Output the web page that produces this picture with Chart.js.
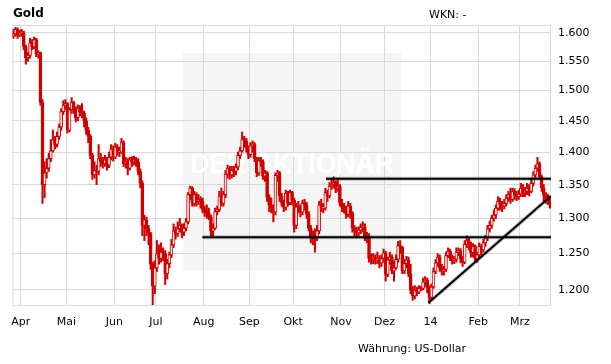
<!DOCTYPE html>
<html>
<head>
<meta charset="utf-8">
<title>Gold</title>
<script src="https://cdn.jsdelivr.net/npm/chart.js@4.4.1/dist/chart.umd.min.js"></script>
<style>
  html, body { margin: 0; padding: 0; background: #fff; }
</style>
</head>
<body>
<canvas id="chartGold" width="611" height="364"></canvas>
<script>
// Tagesschlusskurse (Handelstage 26.03.2013 - 21.03.2014), US-Dollar
const closes = [
  1598, 1606, 1596, 1600,
  1600, 1575, 1556, 1560, 1582,  1575, 1588, 1562, 1565, 1480,
  1350, 1368, 1375, 1390, 1402,  1420, 1412, 1425, 1440, 1465,
  1475, 1478, 1435, 1468, 1480,  1470, 1455, 1470, 1465, 1462,
  1450, 1435, 1425, 1395, 1365,  1372, 1370, 1390, 1385, 1382,
  1388, 1380, 1392, 1405, 1392,  1408, 1400, 1400, 1415, 1382,
  1385, 1375, 1388, 1385, 1388,  1385, 1370, 1352, 1290, 1298,
  1285, 1278, 1235, 1205, 1230,  1250, 1243, 1252, 1250, 1222,
  1236, 1248, 1262, 1282, 1278,  1285, 1290, 1280, 1286, 1295,
  1335, 1345, 1322, 1335, 1325,  1328, 1325, 1313, 1310, 1308,
  1302, 1282, 1286, 1310, 1313,  1333, 1322, 1335, 1366, 1375,
  1365, 1372, 1370, 1377, 1395,  1402, 1420, 1418, 1407, 1396,
  1410, 1412, 1390, 1368, 1387,  1385, 1363, 1368, 1331, 1320,
  1316, 1309, 1364, 1368, 1333,  1323, 1316, 1337, 1323, 1338,
  1327, 1290, 1317, 1316, 1309,  1322, 1320, 1306, 1286, 1272,
  1275, 1272, 1282, 1320, 1315,  1315, 1338, 1333, 1348, 1351,
  1353, 1344, 1347, 1323, 1316,  1315, 1306, 1318, 1308, 1286,
  1282, 1279, 1283, 1287, 1288,  1273, 1274, 1243, 1242, 1243,
  1241, 1242, 1237, 1243, 1251,  1221, 1241, 1245, 1226, 1230,
  1242, 1261, 1259, 1226, 1236,  1241, 1222, 1200, 1192, 1200,
  1197, 1202, 1202, 1211, 1213,  1203, 1190, 1204, 1225, 1237,
  1245, 1230, 1226, 1228, 1247,  1253, 1245, 1240, 1242, 1252,
  1254, 1242, 1238, 1263, 1268,  1263, 1251, 1260, 1243, 1248,
  1260, 1255, 1265, 1272, 1285,  1290, 1300, 1305, 1315, 1325,
  1320, 1318, 1322, 1330, 1335,  1328, 1340, 1335, 1332, 1336,
  1345, 1338, 1340, 1345, 1340,  1352, 1365, 1375, 1382, 1362,
  1345, 1335, 1330, 1328, 1320
];

const highs = [
  1606, 1610, 1609, 1605,
  1606, 1603, 1578, 1565, 1590,  1588, 1593, 1590, 1568, 1566,
  1485, 1385, 1390, 1398, 1420,  1435, 1425, 1432, 1445, 1470,
  1483, 1485, 1480, 1472, 1488,  1482, 1473, 1476, 1475, 1478,
  1466, 1455, 1440, 1428, 1398,  1385, 1380, 1412, 1398, 1392,
  1395, 1392, 1400, 1412, 1410,  1414, 1412, 1408, 1422, 1418,
  1392, 1390, 1392, 1393, 1394,  1392, 1390, 1374, 1356, 1305,
  1302, 1290, 1280, 1238, 1240,  1268, 1262, 1265, 1258, 1254,
  1242, 1252, 1270, 1292, 1288,  1295, 1300, 1292, 1292, 1300,
  1338, 1348, 1347, 1340, 1338,  1335, 1332, 1330, 1318, 1320,
  1315, 1305, 1292, 1315, 1318,  1340, 1345, 1340, 1372, 1380,
  1378, 1378, 1378, 1382, 1400,  1408, 1432, 1425, 1422, 1410,
  1415, 1418, 1415, 1392, 1392,  1392, 1388, 1372, 1370, 1335,
  1330, 1320, 1368, 1372, 1370,  1337, 1327, 1342, 1340, 1342,
  1340, 1330, 1322, 1325, 1320,  1327, 1328, 1324, 1310, 1290,
  1282, 1285, 1290, 1325, 1328,  1322, 1345, 1342, 1353, 1358,
  1362, 1356, 1360, 1350, 1328,  1322, 1318, 1325, 1322, 1310,
  1290, 1287, 1288, 1292, 1295,  1292, 1280, 1278, 1250, 1250,
  1248, 1252, 1247, 1248, 1256,  1253, 1245, 1252, 1248, 1240,
  1248, 1267, 1268, 1260, 1242,  1246, 1245, 1235, 1205, 1206,
  1204, 1206, 1205, 1216, 1218,  1216, 1206, 1208, 1230, 1242,
  1250, 1248, 1235, 1232, 1252,  1258, 1256, 1248, 1246, 1258,
  1258, 1257, 1246, 1268, 1275,  1272, 1266, 1264, 1262, 1252,
  1265, 1263, 1270, 1276, 1290,  1296, 1305, 1312, 1320, 1332,
  1330, 1325, 1328, 1335, 1340,  1345, 1345, 1344, 1340, 1342,
  1352, 1350, 1346, 1352, 1350,  1358, 1370, 1380, 1392, 1385,
  1365, 1350, 1338, 1336, 1332
];

const lows = [
  1590, 1594, 1590, 1593,
  1594, 1570, 1545, 1550, 1555,  1570, 1572, 1558, 1555, 1475,
  1322, 1330, 1360, 1370, 1385,  1400, 1405, 1408, 1420, 1435,
  1460, 1468, 1430, 1432, 1462,  1462, 1448, 1450, 1458, 1455,
  1440, 1428, 1415, 1390, 1358,  1360, 1350, 1365, 1378, 1375,
  1378, 1372, 1376, 1388, 1386,  1390, 1395, 1393, 1398, 1378,
  1375, 1365, 1372, 1378, 1380,  1378, 1365, 1345, 1275, 1268,
  1275, 1262, 1228, 1180, 1195,  1225, 1235, 1238, 1240, 1207,
  1215, 1230, 1244, 1258, 1270,  1274, 1280, 1272, 1275, 1282,
  1292, 1328, 1318, 1318, 1318,  1320, 1315, 1308, 1303, 1300,
  1298, 1275, 1275, 1284, 1305,  1310, 1318, 1318, 1330, 1360,
  1358, 1360, 1362, 1365, 1373,  1390, 1400, 1408, 1400, 1390,
  1392, 1400, 1385, 1362, 1364,  1378, 1358, 1355, 1325, 1310,
  1308, 1295, 1305, 1355, 1325,  1318, 1310, 1312, 1318, 1320,
  1320, 1280, 1285, 1308, 1302,  1305, 1312, 1300, 1282, 1265,
  1262, 1252, 1268, 1278, 1310,  1308, 1312, 1325, 1330, 1343,
  1345, 1338, 1340, 1318, 1310,  1308, 1300, 1302, 1300, 1280,
  1275, 1272, 1274, 1278, 1280,  1268, 1265, 1238, 1235, 1236,
  1235, 1236, 1230, 1232, 1238,  1212, 1218, 1235, 1222, 1212,
  1228, 1238, 1250, 1222, 1222,  1230, 1218, 1195, 1186, 1188,
  1192, 1195, 1199, 1200, 1205,  1196, 1182, 1188, 1202, 1222,
  1232, 1225, 1220, 1220, 1225,  1244, 1240, 1235, 1236, 1238,
  1247, 1237, 1232, 1236, 1258,  1255, 1245, 1245, 1238, 1238,
  1245, 1248, 1252, 1260, 1268,  1280, 1286, 1296, 1300, 1312,
  1312, 1310, 1314, 1318, 1325,  1322, 1325, 1328, 1326, 1328,
  1332, 1332, 1332, 1335, 1333,  1338, 1348, 1360, 1370, 1358,
  1340, 1325, 1322, 1320, 1315
];

// Monatsanfaenge (Position zwischen zwei Handelstagen) und Beschriftung
const monthTicks = [3.5, 25.5, 48.5, 68.5, 91.5, 113.5, 134.5, 157.5, 178.5, 200.5, 223.5, 243.5];
const monthLabels = ['Apr', 'Mai', 'Jun', 'Jul', 'Aug', 'Sep', 'Okt', 'Nov', 'Dez', '14', 'Feb', 'Mrz'];
const priceTicks = [1200, 1250, 1300, 1350, 1400, 1450, 1500, 1550, 1600];

// Trendlinien: [Handelstag, Kurs]
const lineResistance = [[150.3, 1359], [258.5, 1359]];
const lineSupport = [[90.9, 1273], [258.5, 1273]];
const lineUptrend = [[199.6, 1183], [258.5, 1333]];

const red = '#d00000';
const gridGrey = '#d9d9d9';

const opens = closes.map((c, i) => (i === 0 ? 1594 : closes[i - 1]));
const wickData = closes.map((c, i) => ({ x: i, y: [lows[i], highs[i]] }));
const bodyData = closes.map((c, i) => ({ x: i, y: [opens[i], c] }));

function fmtDe(v) {
    return String(Math.round(v)).replace(/\B(?=(\d{3})+(?!\d))/g, '.');
}

function trendDatasets(points) {
    const data = points.map(p => ({ x: p[0], y: p[1] }));
    return [
        { type: 'line', data, borderColor: '#000', borderWidth: 2, pointRadius: 0, order: 0 },
        { type: 'line', data, borderColor: 'rgba(0,0,0,0.22)', borderWidth: 4, pointRadius: 0, order: 1 }
    ];
}

// Wasserzeichen, Rahmen und Texte
const decoPlugin = {
    id: 'deco',
    beforeDraw(chart) {
        const ctx = chart.ctx;
        ctx.save();
        ctx.fillStyle = '#f5f5f5';
        ctx.fillRect(183, 53, 218, 217);
        ctx.restore();
    },
    beforeDatasetsDraw(chart) {
        const ctx = chart.ctx;
        const a = chart.chartArea;
        ctx.save();
        ctx.font = 'bold 29px "Liberation Sans"';
        const txt = 'DER AKTIONÄR';
        const w = ctx.measureText(txt).width;
        ctx.translate(190, 173);
        ctx.scale(204 / w, 1);
        ctx.fillStyle = '#ffffff';
        ctx.textBaseline = 'alphabetic';
        ctx.fillText(txt, 0, 0);
        ctx.restore();

        ctx.save();
        ctx.strokeStyle = gridGrey;
        ctx.lineWidth = 1;
        ctx.strokeRect(a.left + 0.5, a.top + 0.5, a.right - a.left - 1, a.bottom - a.top);
        ctx.restore();
    },
    afterDraw(chart) {
        const ctx = chart.ctx;
        ctx.save();
        ctx.fillStyle = '#000';
        ctx.textBaseline = 'alphabetic';
        ctx.font = 'bold 12px "DejaVu Sans"';
        ctx.fillText('Gold', 13, 17);
        ctx.font = '11px "DejaVu Sans"';
        ctx.fillText('WKN: -', 429, 18);
        ctx.fillText('Währung: US-Dollar', 358, 352);
        ctx.restore();
    }
};

Chart.defaults.font.family = '"DejaVu Sans", Verdana, sans-serif';

const ctxGold = document.getElementById('chartGold').getContext('2d');
new Chart(ctxGold, {
    type: 'bar',
    data: {
        datasets: [
            ...trendDatasets(lineResistance),
            ...trendDatasets(lineSupport),
            ...trendDatasets(lineUptrend),
            {
                // Kerzenkoerper
                data: bodyData,
                grouped: false,
                barThickness: 3,
                minBarLength: 1,
                borderWidth: 1,
                borderSkipped: false,
                borderColor: red,
                backgroundColor: c => {
                    const i = c.dataIndex;
                    return closes[i] >= opens[i] ? '#ffe8e8' : red;
                },
                order: 2
            },
            {
                // Dochte (Hoch/Tief)
                data: wickData,
                grouped: false,
                barThickness: 1.4,
                backgroundColor: red,
                borderWidth: 0,
                order: 3
            }
        ]
    },
    options: {
        responsive: false,
        animation: false,
        layout: { padding: { left: 10, top: 25, right: 0, bottom: 0 } },
        plugins: {
            legend: { display: false },
            tooltip: { enabled: false }
        },
        scales: {
            x: {
                type: 'linear',
                min: -0.5,
                max: closes.length - 0.5,
                bounds: 'data',
                offset: false,
                grid: { color: gridGrey, offset: false, drawTicks: false },
                border: { display: false },
                afterBuildTicks: axis => { axis.ticks = monthTicks.map(v => ({ value: v })); },
                afterFit: axis => { axis.height = 59; },
                ticks: {
                    autoSkip: false,
                    maxRotation: 0,
                    padding: 11,
                    color: '#000',
                    font: { size: 11 },
                    callback: (v, i) => monthLabels[i]
                }
            },
            y: {
                type: 'logarithmic',
                position: 'right',
                min: 1180,
                max: 1614,
                bounds: 'data',
                grid: { color: gridGrey, drawTicks: false },
                border: { display: false },
                afterBuildTicks: axis => { axis.ticks = priceTicks.map(v => ({ value: v })); },
                afterFit: axis => { axis.width = 60; },
                ticks: {
                    autoSkip: false,
                    padding: 7,
                    color: '#000',
                    font: { size: 11 },
                    callback: v => fmtDe(v)
                }
            }
        }
    },
    plugins: [decoPlugin]
});
</script>
</body>
</html>
